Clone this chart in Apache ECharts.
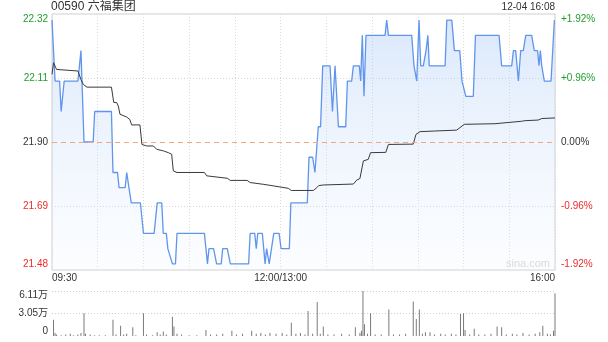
<!DOCTYPE html>
<html><head><meta charset="utf-8">
<script src="https://cdn.jsdelivr.net/npm/echarts@6/dist/echarts.min.js"></script>
<style>html,body{margin:0;padding:0;background:#fff}#c{width:608px;height:342px}</style>
</head><body><div id="c"></div>
<script>
const titleText = '00590 六福集团';
const stampText = '12-04 16:08';
const xTickMinutes = [0, 150, 330];
const xTickLabels = ['09:30', '12:00/13:00', '16:00'];
const priceTickLabels = ['21.48', '21.69', '21.90', '22.11', '22.32'];
const pctTickLabels = ['-1.92%', '-0.96%', '0.00%', '+0.96%', '+1.92%'];
const volTickLabels = ['0', '3.05万', '6.11万'];
const preClose = 21.90;

// price line: minute index, price
const priceMin = [0,2,5,6,7,8,17,19,21,27,28,39,40,43,44,48,49,50,52,58,60,67,69,72,73,75,76,77,79,81,82,
  100,102,103,106,108,111,112,115,117,129,130,133,134,135,138,139.8,140.8,142.5,145.5,149,150.3,155.7,156.7,
  167.5,168.6,171,172.5,174.7,176.2,177.6,182.4,184,185.7,186.8,187.9,192.7,193.8,196.6,197.7,201.6,202.5,203.6,204.7,206,
  218.5,219.6,220.7,236,237.5,239.3,240.8,241.9,243.6,245.4,246.6,247.5,257.9,259,262.3,264,267.5,269,270,271.5,276.4,277.8,
  293.3,295,301.6,302.7,304.2,306,307.5,309.2,310.8,314.7,316.4,318.6,319.5,320.4,321.3,323,327.4,329.6,330];
const priceVal = [22.30,22.10,22.10,22.00,22.00,22.10,22.10,22.20,21.90,21.90,22.00,22.00,21.80,21.80,21.75,21.75,21.80,21.80,21.70,21.70,21.60,21.60,21.70,21.70,21.60,21.60,21.55,21.55,21.50,21.50,21.60,
  21.60,21.50,21.55,21.55,21.50,21.50,21.55,21.55,21.50,21.50,21.60,21.60,21.55,21.60,21.60,21.50,21.55,21.50,21.60,21.60,21.55,21.55,21.70,
  21.70,21.85,21.85,21.80,21.95,21.95,22.15,22.15,22.00,22.15,22.15,21.95,21.95,22.10,22.10,22.15,22.15,22.10,22.25,22.05,22.25,
  22.25,22.30,22.25,22.25,22.15,22.10,22.30,22.15,22.15,22.20,22.25,22.15,22.15,22.30,22.30,22.20,22.20,22.10,22.10,22.05,22.05,22.25,
  22.25,22.15,22.15,22.20,22.20,22.10,22.20,22.20,22.25,22.25,22.20,22.20,22.15,22.20,22.15,22.10,22.10,22.30,22.30];

// average price line
const avgMin = [0,1,3,17,19,20.5,23,39,40.5,42.5,43.5,44.6,49,51,52.3,57.7,59,62,66.5,68.7,73,76.3,78.5,79.6,82,100,101.5,115,117,128,130,139,149,155,157,
  171.5,173.7,175,178,197.7,199.9,202,204.3,207.5,209,219,220.7,237,238.8,241.5,251,265.5,266.6,270.5,290.7,291.8,308,310.4,319,321.3,330];
const avgVal = [22.122,22.16,22.138,22.133,22.105,22.089,22.08,22.08,22.03,22.029,22.018,21.991,21.982,21.974,21.956,21.956,21.892,21.887,21.887,21.876,21.871,21.865,21.86,21.805,21.80,21.80,21.789,21.781,21.774,21.774,21.767,21.761,21.753,21.748,21.741,
  21.741,21.75,21.757,21.759,21.762,21.775,21.78,21.838,21.843,21.865,21.866,21.892,21.893,21.925,21.934,21.936,21.939,21.94,21.958,21.96,21.966,21.968,21.97,21.972,21.977,21.979];

// volume bars (万 shares)
const volMin = [1,2,3,6,9,12,14,17,19,21,22,25,28,31,35,40,42,45,47,49,53,55,60,62,66,69,71,73,75,79,80,82,85,90,95,101,104,108,112,118,121,125,131,134,137,140,143,147,151,154,157,160,163,166,168,171,174,176,178,181,185,190,195,199,202,203,204,205,207,209,212,216,221,224,228,232,237,239,241,243,245,248,251,255,258,262,265,268,270,271,274,277,280,284,288,292,295,298,302,305,309,313,317,320,322,325,327,329,330];
const volVal = [2.2,0.4,0.2,0.1,0.2,0.3,0.1,0.2,0.4,3.1,0.3,0.2,0.1,0.1,0.1,2.2,0.2,1.4,0.2,0.3,1.2,0.1,3.1,0.2,0.1,0.5,0.2,0.6,0.2,2.6,1.3,0.3,0.2,0.1,0.1,0.8,0.2,0.2,0.3,0.7,0.2,0.3,0.7,0.3,0.4,0.2,0.4,0.3,0.4,0.2,1.8,0.3,0.4,0.2,3.4,0.3,4.6,0.3,1.3,0.2,0.2,0.3,0.2,1.2,0.4,0.7,6.11,1.6,0.3,3.1,0.2,0.2,3.6,0.2,0.2,0.3,4.7,2.3,3.6,0.3,0.5,0.5,0.2,0.3,0.2,0.3,0.2,3.0,3.1,0.8,0.2,1.0,0.2,0.2,0.3,1.3,1.2,0.2,0.3,0.2,0.4,0.2,0.3,0.5,1.4,0.3,0.2,0.7,5.8];

const FONT = 'Arial, "Liberation Sans", "Noto Sans CJK SC", sans-serif';
const GREEN = '#1f9e2c', RED = '#ee2a2a', DARK = '#333333';
const pricePairs = priceMin.map((m, i) => [m, priceVal[i]]);
const avgPairs = avgMin.map((m, i) => [m, avgVal[i]]);
const volPairs = volMin.map((m, i) => [m, volVal[i]]);

const sideRich = {
  rb: {color: RED, fontSize: 10, fontFamily: FONT, padding: [0, 0, 11, 0]},
  r: {color: RED, fontSize: 10, fontFamily: FONT},
  k: {color: DARK, fontSize: 10, fontFamily: FONT},
  g: {color: GREEN, fontSize: 10, fontFamily: FONT},
  gt: {color: GREEN, fontSize: 10, fontFamily: FONT, padding: [11, 0, 0, 0]}
};
const sideKeys = ['rb', 'r', 'k', 'g', 'gt'];
const volRich = {
  b: {color: DARK, fontSize: 10, fontFamily: FONT, padding: [0, 0, 9, 0]},
  m: {color: DARK, fontSize: 10, fontFamily: FONT},
  t: {color: DARK, fontSize: 10, fontFamily: FONT, padding: [9, 0, 0, 0]}
};
const volKeys = ['b', 'm', 't'];

const chart = echarts.init(document.getElementById('c'), null, {renderer: 'canvas'});
chart.setOption({
  animation: false,
  backgroundColor: '#fff',
  title: [
    {text: titleText, left: 51, top: 1, padding: 0, textStyle: {fontSize: 12, fontWeight: 'normal', color: DARK, fontFamily: FONT}},
    {text: stampText, right: 53, top: 2, padding: 0, textStyle: {fontSize: 10, fontWeight: 'normal', color: DARK, fontFamily: FONT}}
  ],
  graphic: [
    {type: 'text', left: 506, top: 258, z: 1, style: {text: 'sina.com', fill: '#d4d4d4', font: '11px ' + FONT}}
  ],
  grid: [
    {left: 52, right: 53, top: 14, height: 256, show: true, borderColor: '#cfcfcf', borderWidth: 1},
    {left: 52, right: 53, top: 291, height: 45, show: false}
  ],
  xAxis: [
    {type: 'value', gridIndex: 0, min: 0, max: 330, interval: 30,
     axisLine: {show: false}, axisTick: {show: false},
     splitLine: {show: true, lineStyle: {color: '#dadada', type: [1, 2], width: 1}},
     axisLabel: {show: true, margin: 3, fontSize: 10, color: DARK, fontFamily: FONT,
       showMinLabel: true, showMaxLabel: true, alignMinLabel: 'left', alignMaxLabel: 'right',
       formatter: v => { const k = xTickMinutes.indexOf(Math.round(v)); return k >= 0 ? xTickLabels[k] : ''; }}},
    {type: 'value', gridIndex: 1, min: 0, max: 330, interval: 30,
     axisLine: {show: false}, axisTick: {show: false}, axisLabel: {show: false}, splitLine: {show: false}}
  ],
  yAxis: [
    {type: 'value', gridIndex: 0, min: 21.48, max: 22.32, interval: 0.21, position: 'left',
     axisLine: {show: false}, axisTick: {show: false},
     splitLine: {show: true, lineStyle: {color: ['rgba(0,0,0,0)', '#d6d6d6', 'rgba(0,0,0,0)', '#d6d6d6', 'rgba(0,0,0,0)'], type: [1, 2]}},
     axisLabel: {margin: 4, formatter: (v, i) => '{' + sideKeys[i] + '|' + priceTickLabels[i] + '}', rich: sideRich}},
    {type: 'value', gridIndex: 0, min: -1.92, max: 1.92, interval: 0.96, position: 'right',
     axisLine: {show: false}, axisTick: {show: false}, splitLine: {show: false},
     axisLabel: {margin: 6, formatter: (v, i) => '{' + sideKeys[i] + '|' + pctTickLabels[i] + '}', rich: sideRich}},
    {type: 'value', gridIndex: 1, min: 0, max: 6.11, interval: 3.055,
     axisLine: {show: false}, axisTick: {show: false},
     splitLine: {show: true, lineStyle: {color: ['rgba(0,0,0,0)', '#cfcfcf', '#cfcfcf'], type: [1, 2]}},
     axisLabel: {margin: 4, formatter: (v, i) => '{' + volKeys[i] + '|' + volTickLabels[i] + '}', rich: volRich}}
  ],
  series: [
    {type: 'line', xAxisIndex: 0, yAxisIndex: 0, data: pricePairs, symbol: 'none', z: 3,
     lineStyle: {color: '#5f95ec', width: 1.3},
     areaStyle: {origin: 'start', color: new echarts.graphic.LinearGradient(0, 0, 0, 1, [
       {offset: 0, color: 'rgba(160,195,245,0.55)'}, {offset: 1, color: 'rgba(235,243,255,0.25)'}])},
     markLine: {silent: true, symbol: 'none', label: {show: false},
       lineStyle: {color: '#f2a77c', type: [5, 4], width: 1}, data: [{yAxis: preClose}]}},
    {type: 'line', xAxisIndex: 0, yAxisIndex: 0, data: avgPairs, symbol: 'none', z: 4,
     lineStyle: {color: '#3a3a3a', width: 1}},
    {type: 'bar', xAxisIndex: 1, yAxisIndex: 2, data: volPairs, barWidth: 1,
     itemStyle: {color: '#7a7a7a'}}
  ]
});
</script></body></html>
